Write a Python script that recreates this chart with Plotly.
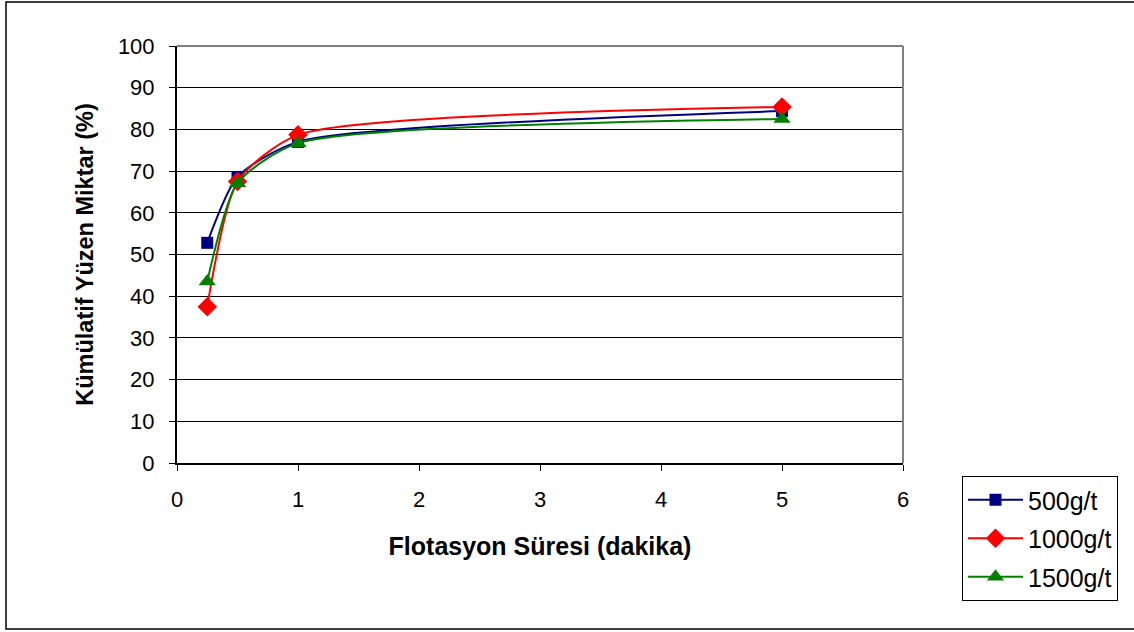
import plotly.graph_objects as go

# Flotation time (minutes) and cumulative float yield (%) per collector dosage
sure = [0.25, 0.5, 1, 5]
seri_adlari = ["500g/t", "1000g/t", "1500g/t"]
verim_500 = [52.8, 68.6, 77.0, 84.4]
verim_1000 = [37.5, 67.5, 78.7, 85.4]
verim_1500 = [43.5, 67.1, 76.7, 82.5]

renkler = ["#000080", "#FF0000", "#008000"]
semboller = ["square", "diamond", "triangle-up"]
boyutlar = [12, 15, 15]

W, H = 1134, 632
L, R, T, B = 177, 231, 46, 169
pw, ph = W - L - R, H - T - B

def px_x(p):
    return (p - L) / pw

def px_y(p):
    return (H - B - p) / ph

fig = go.Figure()
for i, (ad, y) in enumerate(zip(seri_adlari, [verim_500, verim_1000, verim_1500])):
    fig.add_trace(go.Scatter(
        x=sure, y=y, name=ad, mode="lines+markers",
        line=dict(color=renkler[i], width=2, shape="spline", smoothing=0.65),
        marker=dict(symbol=semboller[i], size=boyutlar[i], color=renkler[i]),
        legendgroup=ad,
    ))

font = "Liberation Sans, Arial, sans-serif"

fig.update_layout(
    width=W, height=H,
    margin=dict(l=L, r=R, t=T, b=B),
    paper_bgcolor="white", plot_bgcolor="white",
    font=dict(family=font, color="black", size=22),
    showlegend=True,
    legend=dict(
        x=px_x(962), y=px_y(476), xanchor="left", yanchor="top",
        bordercolor="black", borderwidth=1, bgcolor="white",
        font=dict(size=25, family=font),
        tracegroupgap=3, itemwidth=55,
    ),
    xaxis=dict(
        range=[0, 6], dtick=1, tick0=0, showgrid=False, zeroline=False,
        showline=True, linecolor="black", linewidth=2,
        ticks="outside", ticklen=6, tickcolor="black", tickwidth=1,
        tickfont=dict(size=22), ticklabelstandoff=10,
        title=dict(text="<b>Flotasyon Süresi (dakika)</b>", font=dict(size=25), standoff=26),
    ),
    yaxis=dict(
        range=[0, 100], dtick=10, tick0=0, showgrid=True, gridcolor="black", gridwidth=1,
        zeroline=False, showline=True, linecolor="black", linewidth=2,
        ticks="outside", ticklen=6, tickcolor="black", tickwidth=1,
        tickfont=dict(size=22), ticklabelstandoff=10,
        title=dict(text="<b>Kümülatif Yüzen Miktar (%)</b>", font=dict(size=23.5), standoff=18),
    ),
    shapes=[
        # plot-area frame on top and right
        dict(type="line", xref="paper", yref="paper", x0=0, x1=1, y0=1, y1=1,
             line=dict(color="#808080", width=2)),
        dict(type="line", xref="paper", yref="paper", x0=1, x1=1, y0=0, y1=1,
             line=dict(color="#808080", width=2)),
        # chart border
        dict(type="rect", xref="paper", yref="paper",
             x0=px_x(6), x1=px_x(1145), y0=px_y(629), y1=px_y(2),
             line=dict(color="black", width=1.5), layer="below"),
    ],
)

fig.write_html("out.html")
